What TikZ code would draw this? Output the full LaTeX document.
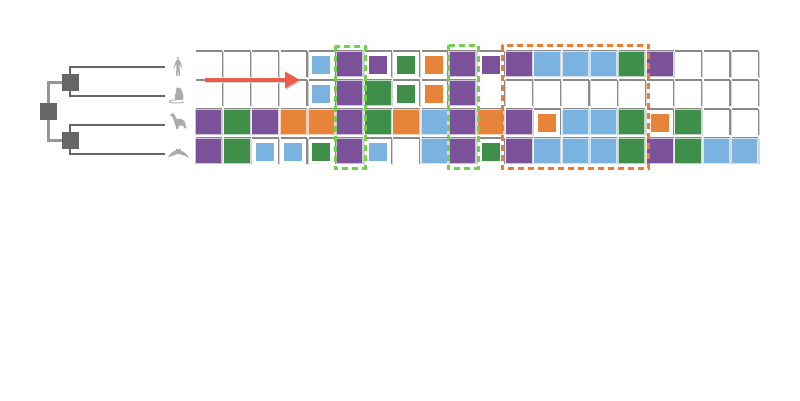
\documentclass[tikz,border=0pt]{standalone}
\usetikzlibrary{arrows.meta}
\definecolor{cP}{HTML}{7B5199}
\definecolor{cG}{HTML}{3F8F4A}
\definecolor{cO}{HTML}{E8833A}
\definecolor{cB}{HTML}{7AB2E0}
\definecolor{treeC}{HTML}{666666}
\definecolor{rootC}{HTML}{969696}
\definecolor{gridC}{HTML}{8A8A8A}
\definecolor{gridS}{HTML}{D4D4D4}
\definecolor{dashG}{HTML}{6FD34A}
\definecolor{dashO}{HTML}{EE7B30}
\definecolor{arrC}{HTML}{EB5E4B}
\definecolor{animC}{HTML}{ABABAB}
\tikzset{
  big/.style={rectangle,inner sep=0pt,outer sep=0pt,minimum width=26.7pt,minimum height=25.7pt,draw=white,draw opacity=.65,line width=1.4pt,anchor=center,yshift=.85pt},
  small/.style={rectangle,inner sep=0pt,outer sep=0pt,minimum width=18pt,minimum height=18pt,draw=none,anchor=center},
  treebox/.style={rectangle,fill=treeC,inner sep=0pt,outer sep=0pt,minimum size=17pt},
  treeline/.style={draw=treeC,line width=1.8pt},
  rootline/.style={draw=rootC,line width=2.2pt},
  dashbox/.style={line width=3pt,dash pattern=on 6pt off 4pt},
  anim/.style={fill=animC,draw=none},
}
% #1 column, #2 row (0-3), #3 colour, #4 style
\newcommand{\cellat}[4]{%
  \pgfmathsetmacro{\cx}{196+28.2*#1+12.65}%
  \pgfmathsetmacro{\cy}{51+29*#2+14}%
  \node[#4,fill=#3] (c#2x#1) at (\cx,\cy) {};}
\begin{document}
\begin{tikzpicture}[x=1pt,y=-1pt]
\useasboundingbox (0,0) rectangle (800,400);
\fill[white] (0,0) rectangle (800,400);
% grid frames
\foreach \r in {0,1,2,3}{
  \foreach \c in {0,...,19}{
    \pgfmathsetmacro{\xa}{196+28.2*\c}
    \pgfmathsetmacro{\xb}{\xa+26.4}
    \pgfmathsetmacro{\ya}{51+29*\r}
    \pgfmathsetmacro{\yb}{\ya+26}
    \pgfmathtruncatemacro{\skip}{(\r==1 && \c==10) ? 1 : 0}
    \draw[gridS,line width=1pt] (\xb+1,\ya+1) -- (\xb+1,\yb+1);
    \ifnum\skip=0
      \draw[gridC,line width=1.1pt] (\xa,\ya) -- (\xb,\ya);
    \fi
    \draw[gridC,line width=1.1pt] (\xb,\ya) -- (\xb,\yb);
  }
}
% row 0
\cellat{4}{0}{cB}{small}\cellat{5}{0}{cP}{big}\cellat{6}{0}{cP}{small}\cellat{7}{0}{cG}{small}
\cellat{8}{0}{cO}{small}\cellat{9}{0}{cP}{big}\cellat{10}{0}{cP}{small}\cellat{11}{0}{cP}{big}
\cellat{12}{0}{cB}{big}\cellat{13}{0}{cB}{big}\cellat{14}{0}{cB}{big}\cellat{15}{0}{cG}{big}\cellat{16}{0}{cP}{big}
% row 1
\cellat{4}{1}{cB}{small}\cellat{5}{1}{cP}{big}\cellat{6}{1}{cG}{big}\cellat{7}{1}{cG}{small}
\cellat{8}{1}{cO}{small}\cellat{9}{1}{cP}{big}
% row 2
\cellat{0}{2}{cP}{big}\cellat{1}{2}{cG}{big}\cellat{2}{2}{cP}{big}\cellat{3}{2}{cO}{big}\cellat{4}{2}{cO}{big}
\cellat{5}{2}{cP}{big}\cellat{6}{2}{cG}{big}\cellat{7}{2}{cO}{big}\cellat{8}{2}{cB}{big}\cellat{9}{2}{cP}{big}
\cellat{10}{2}{cO}{big}\cellat{11}{2}{cP}{big}\cellat{12}{2}{cO}{small}\cellat{13}{2}{cB}{big}\cellat{14}{2}{cB}{big}
\cellat{15}{2}{cG}{big}\cellat{16}{2}{cO}{small}\cellat{17}{2}{cG}{big}
% row 3
\cellat{0}{3}{cP}{big}\cellat{1}{3}{cG}{big}\cellat{2}{3}{cB}{small}\cellat{3}{3}{cB}{small}\cellat{4}{3}{cG}{small}
\cellat{5}{3}{cP}{big}\cellat{6}{3}{cB}{small}\cellat{8}{3}{cB}{big}\cellat{9}{3}{cP}{big}\cellat{10}{3}{cG}{small}
\cellat{11}{3}{cP}{big}\cellat{12}{3}{cB}{big}\cellat{13}{3}{cB}{big}\cellat{14}{3}{cB}{big}\cellat{15}{3}{cG}{big}
\cellat{16}{3}{cP}{big}\cellat{17}{3}{cG}{big}\cellat{18}{3}{cB}{big}\cellat{19}{3}{cB}{big}
% tree
\node[treebox] (root) at (48.5,111.5) {};
\node[treebox] (upper) at (70,82.5) {};
\node[treebox] (lower) at (70,140.5) {};
\coordinate (human) at (165,66.7);
\coordinate (rat) at (165,96);
\coordinate (dog) at (165,125);
\coordinate (bird) at (165,154);
\draw[rootline] (root.north) |- (upper.west);
\draw[rootline] (root.south) |- (lower.west);
\draw[treeline] (upper.north) |- (human);
\draw[treeline] (upper.south) |- (rat);
\draw[treeline] (lower.north) |- (dog);
\draw[treeline] (lower.south) |- (bird);
% human
\fill[anim] (178,58.3) circle (1.4);
\fill[anim] (176.3,60.2) -- (179.7,60.2) -- (182.4,67.5) -- (181.6,67.8) -- (179.6,63.5) -- (179.6,68) -- (180,76) -- (178.7,76) -- (178,69.5) -- (177.3,76) -- (176,76) -- (176.4,68) -- (176.4,63.5) -- (174.4,67.8) -- (173.6,67.5) -- cycle;
% rat
\fill[anim] (177,87.5) .. controls (179,86.5) and (181,88) .. (181.5,90) .. controls (183.5,93) and (183.8,97) .. (183,100) -- (175,100) .. controls (174.5,96) and (175,93) .. (176.5,91.5) -- (175.5,90) -- cycle;
\draw[animC,line width=0.9pt] (176,100) .. controls (172,100) and (169,100) .. (169.5,102) .. controls (171,103.5) and (178,103) .. (184,102.5);
% dog
\fill[anim] (170,114.5) -- (172,114.3) -- (172.5,112.8) -- (174.5,114.5) -- (176,118) -- (177.5,119) -- (182,119.3) -- (184.8,121.5) -- (186.3,128) -- (184.6,128.5) -- (183,125.5) -- (180.5,125.5) -- (178.8,125.5) -- (178.2,129) -- (176.3,129) -- (175.3,124.5) -- (173.5,120) -- (172.8,117) -- (170.5,116.2) -- cycle;
% bird
\fill[anim] (168,157.5) .. controls (170,153) and (173.5,151) .. (176.5,150) -- (176,148.5) -- (178.5,149.5) -- (181,148.5) -- (180.5,150.5) .. controls (184,151.5) and (187,154) .. (189,158) .. controls (186,156) and (182,154.8) .. (178.5,153.8) .. controls (175,154.8) and (171,156) .. (168,157.5) -- cycle;
% dashed boxes
\draw[dashbox,dashG] (335,46) rectangle (365,168.7);
\draw[dashbox,dashG] (448,45) rectangle (478,168.7);
\draw[dashbox,dashO] (502,45) rectangle (648.7,168.7);
% arrow
\coordinate (arrS) at (205,80);
\coordinate (arrE) at (300,80);
\draw[gridS,line width=3.4pt,-{Triangle[length=15pt,width=16pt]}] ([shift={(1,1.5)}]arrS) -- ([shift={(1,1.5)}]arrE);
\draw[arrC,line width=3.4pt,-{Triangle[length=15pt,width=16pt]}] (arrS) -- (arrE);
\end{tikzpicture}
\end{document}
